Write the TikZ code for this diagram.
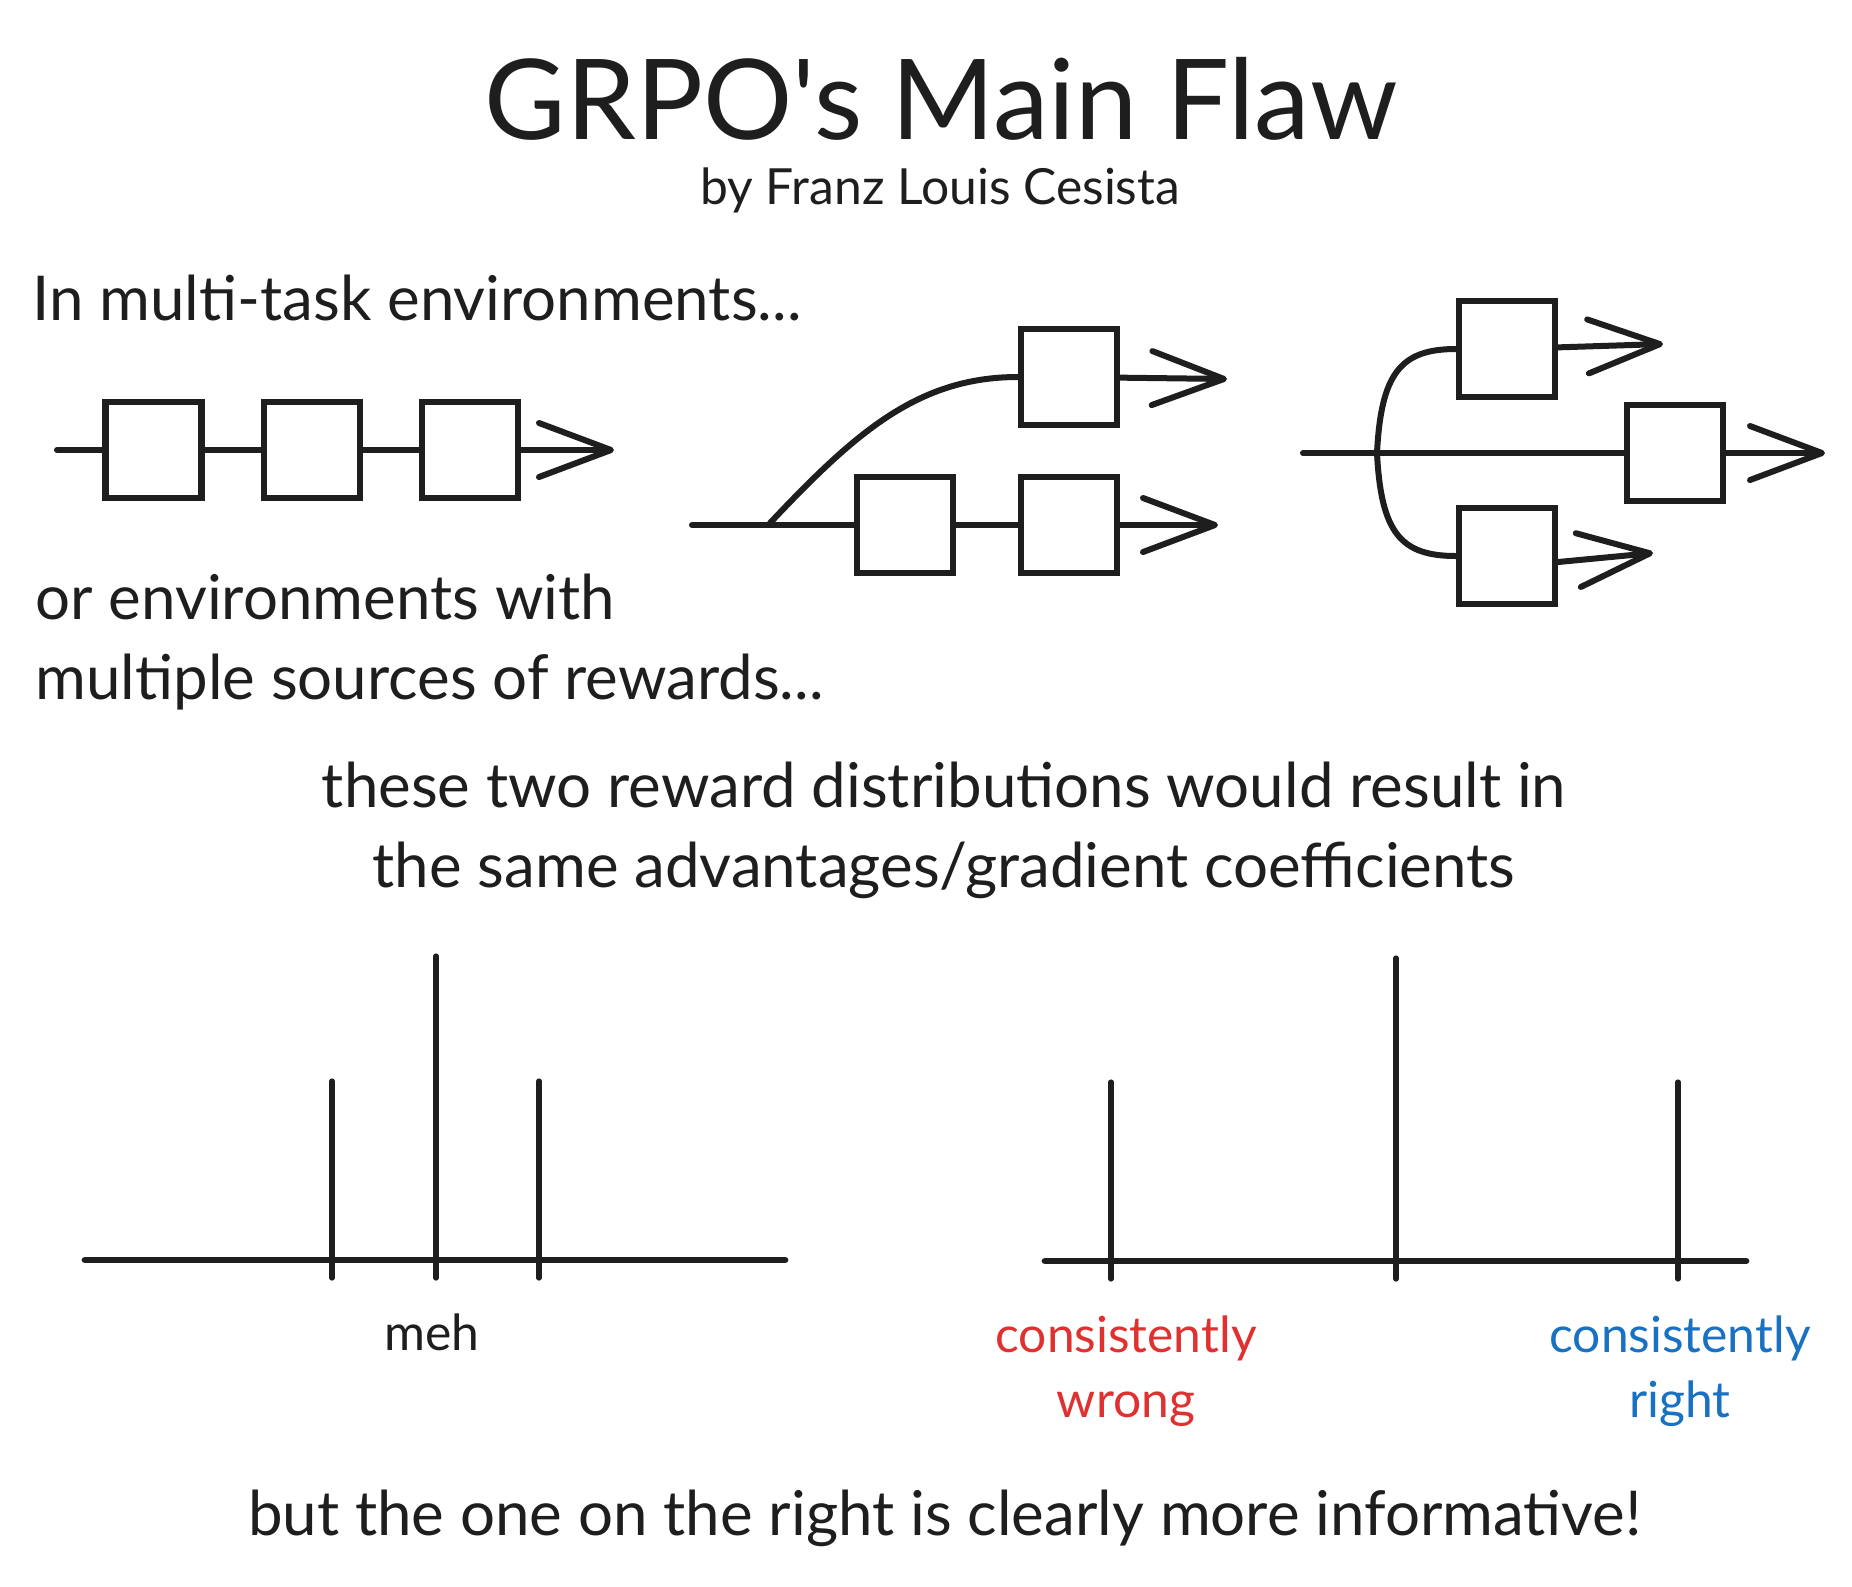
\documentclass[tikz,border=0pt]{standalone}
\usepackage{fontspec}
\setmainfont{Lato}[Ligatures=TeXOff]
\usetikzlibrary{arrows.meta,positioning,calc}
\definecolor{ink}{HTML}{1E1E1E}
\definecolor{wrongred}{HTML}{E03131}
\definecolor{rightblue}{HTML}{1971C2}

\begin{document}
\begin{tikzpicture}[x=0.5pt,y=-0.5pt,
  node distance=28pt,
  blk/.style={draw=ink,line width=3.1pt,minimum size=48pt,inner sep=0pt},
  wire/.style={draw=ink,line width=3pt,line cap=round},
  flow/.style={wire,-{Straight Barb[length=36pt,width=27pt,round]}},
  axisline/.style={draw=ink,line width=3.4pt,line cap=round},
  spike/.style={draw=ink,line width=2.6pt,line cap=round},
  txt/.style={text=ink,inner sep=0pt,anchor=base},
  body/.style={txt,font=\fontsize{30.9}{40}\selectfont},
  lbl/.style={txt,font=\fontsize{24.9}{32.5}\selectfont,align=center}]
\fill[white] (0,0) rectangle (1852,1586);
\useasboundingbox (0,0) rectangle (1852,1586);

\node[txt,font=\fontsize{55.8}{60}\selectfont] (title) at (941,139) {GRPO's Main Flaw};
\node[txt,font=\fontsize{24.9}{30}\selectfont] (author) at (940,204) {by Franz Louis Cesista};
\node[body,anchor=base west] (multitask) at (32,320) {In multi-task environments...};
\node[body,anchor=base west,align=left] (sources) at (35,699) {or environments with\\multiple sources of rewards...};
\node[body,align=center] (same) at (944,887) {these two reward distributions would result in\\the same advantages/gradient coefficients};
\node[body] (verdict) at (945,1535) {but the one on the right is clearly more informative!};

% single chain
\coordinate (c0) at (57,450);
\node[blk] (c1) at (153.5,450) {};
\node[blk,right=of c1] (c2) {};
\node[blk,right=of c2] (c3) {};
\coordinate (c4) at (614,450);
\draw[wire] (c0) -- (c1) -- (c2) -- (c3);
\draw[flow] (c3) -- (c4);

% fork off the chain
\coordinate (m0) at (692,525);
\coordinate (mj) at (770,523);
\node[blk] (m1) at (904.7,525) {};
\node[blk,right=31pt of m1] (m2) {};
\node[blk] (m3) at (m2 |- 0,377) {};
\coordinate (m2e) at (1218,525);
\coordinate (m3e) at (1227,379);
\draw[wire] (m0) -- (m1) -- (m2);
\draw[flow] (m2) -- (m2e);
\draw[wire] (mj) .. controls ($(mj)+(85,-90)$) and ($(m3.west)+(-100,0)$) .. (m3.west);
\draw[flow] (m3) -- (m3e);

% parallel branches
\coordinate (r0) at (1303,453);
\coordinate (rj) at (1377,453);
\node[blk] (r1) at (1507,349) {};
\node[blk] (r2) at (1675,453) {};
\node[blk] (r3) at (1507,556) {};
\coordinate (r1e) at (1663,344);
\coordinate (r2e) at (1825,453);
\coordinate (r3e) at (1653,553);
\draw[wire] (r0) -- (r2);
\draw[flow] (r2) -- (r2e);
\draw[wire] (rj) .. controls ($(rj)+(4,-80)$) and ($(r1.west)+(-55,0)$) .. (r1.west);
\draw[wire] (rj) .. controls ($(rj)+(4,80)$) and ($(r3.west)+(-55,0)$) .. (r3.west);
\draw[flow] (r1) -- (r1e);
\draw[flow] ($(r3.east)+(0,6)$) -- (r3e);

% left distribution
\draw[axisline] (85,1260) -- (785,1260);
\foreach \x/\top in {332/1081,436/956,539/1081}
  \draw[spike] (\x,1278) -- (\x,\top);
\node[lbl] (meh) at (432,1350) {meh};

% right distribution
\draw[axisline] (1045,1261) -- (1746,1261);
\foreach \x/\top in {1111/1082,1396/958,1678/1082}
  \draw[spike] (\x,1279) -- (\x,\top);
\node[lbl,text=wrongred] (wrong) at (1126,1417) {consistently\\wrong};
\node[lbl,text=rightblue] (right) at (1680,1417) {consistently\\right};
\end{tikzpicture}
\end{document}
